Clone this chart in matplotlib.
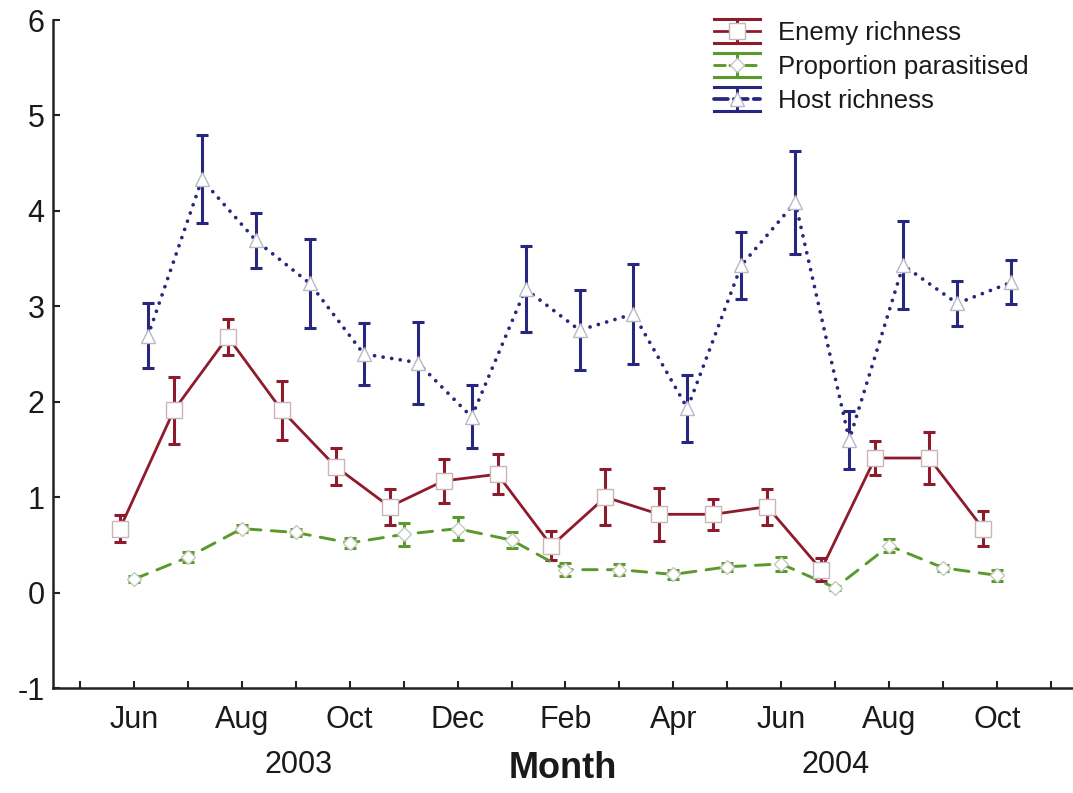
import matplotlib
matplotlib.use("Agg")
import matplotlib.pyplot as plt
import matplotlib.transforms as mtransforms
from matplotlib.lines import Line2D
from matplotlib.legend_handler import HandlerBase

plt.rcParams["font.family"] = ["Liberation Sans", "DejaVu Sans"]
plt.rcParams["axes.unicode_minus"] = False

# months since Jun 2003 (0 = Jun 2003 ... 16 = Oct 2004)
months = list(range(17))
tick_months = list(range(-1, 18))
label_months = list(range(0, 17, 2))
month_labels = ["Jun", "Aug", "Oct", "Dec", "Feb", "Apr", "Jun", "Aug", "Oct"]
years = ["2003", "2004"]
year_pos = [3.05, 13.0]

enemy = [0.67, 1.91, 2.68, 1.91, 1.32, 0.90, 1.17, 1.24, 0.49, 1.00, 0.82, 0.82, 0.90, 0.24, 1.41, 1.41, 0.67]
enemy_se = [0.14, 0.35, 0.19, 0.31, 0.19, 0.19, 0.23, 0.21, 0.15, 0.29, 0.28, 0.16, 0.19, 0.12, 0.18, 0.27, 0.18]
parasit = [0.14, 0.37, 0.67, 0.63, 0.52, 0.61, 0.67, 0.55, 0.24, 0.24, 0.19, 0.27, 0.30, 0.05, 0.49, 0.26, 0.18]
parasit_se = [0.03, 0.05, 0.04, 0.04, 0.05, 0.12, 0.12, 0.08, 0.07, 0.06, 0.05, 0.04, 0.07, 0.02, 0.07, 0.03, 0.06]
host = [2.69, 4.33, 3.69, 3.24, 2.50, 2.41, 1.84, 3.18, 2.75, 2.92, 1.93, 3.43, 4.09, 1.60, 3.43, 3.03, 3.25]
host_se = [0.34, 0.46, 0.29, 0.47, 0.33, 0.43, 0.33, 0.45, 0.42, 0.52, 0.35, 0.35, 0.54, 0.30, 0.46, 0.24, 0.23]

RED, GRN, BLU = "#8e1b2b", "#5a9a2c", "#27277f"


class HandlerCapped(HandlerBase):
    """Legend key: styled line + marker between two full-width cap lines."""

    def create_artists(self, legend, orig, xd, yd, w, h, fontsize, trans):
        x0, x1, xm = -xd, -xd + w, -xd + w / 2
        y0, y1, ym = -yd, -yd + h, -yd + h / 2
        c = orig.get_color()
        arts = [
            Line2D([x0, x1], [y1, y1], color=c, lw=2.2),
            Line2D([x0, x1], [y0, y0], color=c, lw=2.2),
            Line2D([xm, xm], [y0, y1], color=c, lw=2.2),
            Line2D([x0, x1], [ym, ym], color=c, lw=orig.get_linewidth(),
                   linestyle=orig.get_linestyle(), dash_capstyle="round"),
            Line2D([xm], [ym], marker=orig.get_marker(), ms=orig.get_markersize(),
                   mfc="white", mec=orig.get_markeredgecolor(), mew=1, linestyle="none"),
        ]
        for a in arts:
            a.set_transform(trans)
        return arts


fig = plt.figure(figsize=(10.73, 7.93), dpi=100)
ax = fig.add_axes([53 / 1073, 1 - 688 / 793, 1 - 53 / 1073, (688 - 20) / 793])

off = 0.26
series = [
    (enemy, enemy_se, -off, RED, "-", "s", 11, "#c9b4b8", "Enemy richness", 2.0),
    (parasit, parasit_se, 0.0, GRN, (0, (5, 3.5)), "D", 7.5, "#c4c8bd", "Proportion parasitised", 2.1),
    (host, host_se, off, BLU, (0, (0.01, 2.3)), "^", 10, "#b9b9c6", "Host richness", 2.7),
]
proxies = []
for y, se, dx, col, ls, mk, ms, mec, lab, lw in series:
    xs = [m + dx for m in months]
    ax.errorbar(xs, y, yerr=se, fmt="none", ecolor=col, elinewidth=2.2,
                capsize=4.5, capthick=2.2, zorder=2)
    ax.plot(xs, y, color=col, linestyle=ls, lw=lw, dash_capstyle="round", zorder=3)
    ax.plot(xs, y, linestyle="none", marker=mk, ms=ms, mfc="white", mec=mec,
            mew=1, zorder=4)
    proxies.append(Line2D([], [], color=col, linestyle=ls, lw=lw, marker=mk,
                          ms=ms, mec=mec, label=lab))

ax.set_xlim(-1.5, (1073 - 133) / 54)
ax.set_ylim(-1, 6)
ax.set_yticks(range(-1, 7))
ax.set_xticks(tick_months)
ax.set_xticklabels([month_labels[label_months.index(m)] if m in label_months else ""
                    for m in tick_months])
ax.tick_params(direction="in", length=5, width=1.5, labelsize=22, color="#222222",
               labelcolor="#1a1a1a")
ax.tick_params(axis="x", pad=12)
ax.tick_params(axis="y", pad=6)
for sp in ["top", "right"]:
    ax.spines[sp].set_visible(False)
for sp in ["left", "bottom"]:
    ax.spines[sp].set_linewidth(1.8)
    ax.spines[sp].set_color("#222222")

trans = mtransforms.blended_transform_factory(ax.transData, ax.transAxes)
for yr, xp in zip(years, year_pos):
    ax.text(xp, -0.115, yr, transform=trans, ha="center", va="center", fontsize=22,
            color="#1a1a1a")
ax.set_xlabel("Month", fontsize=26, fontweight="bold", labelpad=12, color="#1a1a1a")

ax.legend(handles=proxies, handler_map={Line2D: HandlerCapped()},
          loc="upper left", bbox_to_anchor=(714 / 1073, 1 - 19 / 793),
          bbox_transform=fig.transFigure, frameon=False, fontsize=18.5,
          handlelength=1.8, handleheight=1.05, handletextpad=0.7, labelspacing=0.33,
          borderpad=0, borderaxespad=0, labelcolor="#1a1a1a")

fig.savefig("out.png", dpi=100, facecolor="white")
